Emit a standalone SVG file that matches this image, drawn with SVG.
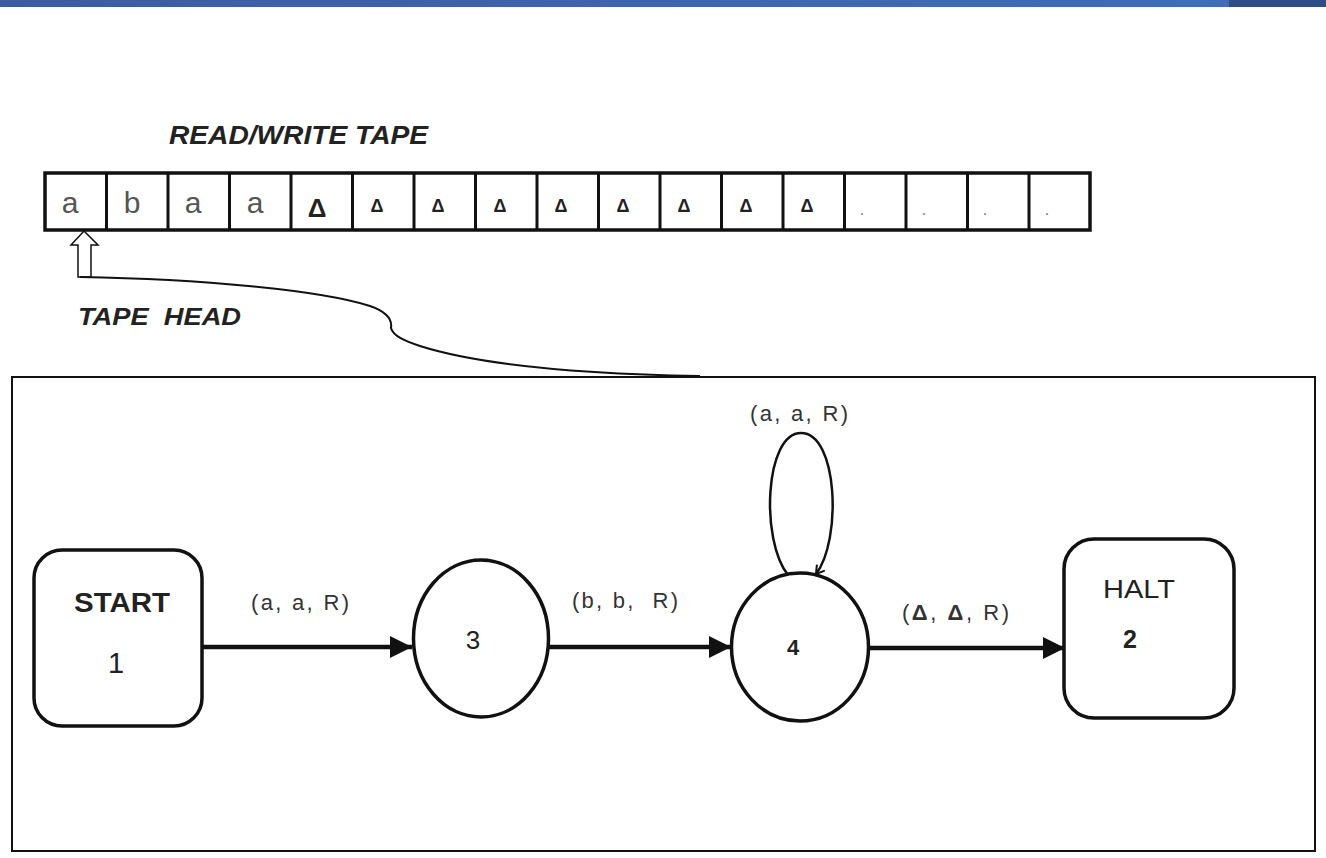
<svg xmlns="http://www.w3.org/2000/svg" width="1326" height="858" viewBox="0 0 1326 858">
<style>
.cell{fill:#fff;stroke:#111;stroke-width:3}
.sym{font-family:"Liberation Sans",Arial,sans-serif;fill:#555;font-size:30px;text-anchor:middle}
.tri{font-family:"Liberation Sans",Arial,sans-serif;fill:#222;font-size:18px;font-weight:bold;text-anchor:middle}
.dot{font-family:"Liberation Sans",Arial,sans-serif;fill:#777;font-size:16px;text-anchor:middle}
.title{font-family:"Liberation Sans",Arial,sans-serif;fill:#222;font-size:25px;font-weight:bold;font-style:italic}
.node{fill:#fff;stroke:#111;stroke-width:3.5}
.lbl{font-family:"Liberation Sans",Arial,sans-serif;fill:#333;font-size:22px;white-space:pre}
.ntxt{font-family:"Liberation Sans",Arial,sans-serif;fill:#222;text-anchor:middle}
.edge{stroke:#111;stroke-width:4.5;fill:none}
.thin{stroke:#111;stroke-width:2;fill:none}
</style>
<defs>
<linearGradient id="bar" x1="0" y1="0" x2="1" y2="0">
<stop offset="0" stop-color="#3a5ca4"/>
<stop offset="1" stop-color="#416cba"/>
</linearGradient>
<marker id="ah" markerWidth="6" markerHeight="5" refX="5" refY="2.5" orient="auto" markerUnits="strokeWidth">
<path d="M0,0 L5,2.5 L0,5 Z" fill="#111"/>
</marker>
<marker id="vh" markerWidth="12" markerHeight="12" refX="10" refY="6" orient="auto" markerUnits="userSpaceOnUse">
<path d="M2,1 L10,6 L2,11" fill="none" stroke="#111" stroke-width="2"/>
</marker>
</defs>
<rect x="0" y="0" width="1229" height="7" fill="url(#bar)"/>
<rect x="1229" y="0" width="97" height="7" fill="#2e4d87"/>

<g id="tape">
<text class="title" x="169" y="144" textLength="259" lengthAdjust="spacingAndGlyphs">READ/WRITE TAPE</text>
<rect x="45" y="173" width="1045" height="57" fill="#fff" stroke="#111" stroke-width="3.5"/>
<g class="thin" style="stroke-width:3">
<path d="M106.5,173V230M168,173V230M229.5,173V230M291,173V230M352.5,173V230M414,173V230M475.5,173V230M537,173V230M598.5,173V230M660,173V230M721.5,173V230M783,173V230M844.5,173V230M906,173V230M967.5,173V230M1029,173V230"/>
</g>
<text class="sym" x="70" y="213">a</text>
<text class="sym" x="132" y="213">b</text>
<text class="sym" x="193" y="213">a</text>
<text class="sym" x="255" y="213">a</text>
<text class="tri" x="317" y="217" style="font-size:26px">Δ</text>
<text class="tri" x="377" y="212">Δ</text>
<text class="tri" x="438" y="212">Δ</text>
<text class="tri" x="500" y="212">Δ</text>
<text class="tri" x="561" y="212">Δ</text>
<text class="tri" x="623" y="212">Δ</text>
<text class="tri" x="684" y="212">Δ</text>
<text class="tri" x="746" y="212">Δ</text>
<text class="tri" x="807" y="212">Δ</text>
<text class="dot" x="862" y="215">.</text>
<text class="dot" x="924" y="215">.</text>
<text class="dot" x="985" y="215">.</text>
<text class="dot" x="1047" y="215">.</text>
</g>

<g id="tape-head">
<polygon points="84,231 98,245 91,245 91,277 78,277 78,245 71,245" fill="#fff" stroke="#111" stroke-width="1.5"/>
<text class="title" x="78" y="325" textLength="163" lengthAdjust="spacingAndGlyphs" style="font-size:24px;white-space:pre">TAPE  HEAD</text>
</g>

<g id="control-unit">
<rect x="12" y="377" width="1303" height="474" fill="none" stroke="#111" stroke-width="2"/>
</g>

<g id="connectors">
<path class="thin" d="M80,277 C200,279 320,290 370,306 C390,313 392,322 391,328 C393,336 405,341 420,346 C480,365 580,374 700,376"/>
<line class="edge" x1="202" y1="647" x2="412" y2="647" marker-end="url(#ah)"/>
<line class="edge" x1="549" y1="647" x2="731" y2="647" marker-end="url(#ah)"/>
<line class="edge" x1="868" y1="648" x2="1065" y2="648" marker-end="url(#ah)"/>
<path class="thin" d="M788,575 C760,540 765,433 801,433 C838,433 842,540 816,574" marker-end="url(#vh)" style="stroke-width:2.5"/>
<text class="lbl" x="251" y="610" textLength="98" lengthAdjust="spacing">(a, a, R)</text>
<text class="lbl" x="572" y="608" textLength="106" lengthAdjust="spacing">(b, b,  R)</text>
<text class="lbl" x="750" y="421" textLength="98" lengthAdjust="spacing">(a, a, R)</text>
<text class="lbl" x="902" y="620" textLength="107" lengthAdjust="spacing">(<tspan font-weight="bold">Δ</tspan>, <tspan font-weight="bold">Δ</tspan>, R)</text>
</g>

<g id="start">
<rect class="node" x="34" y="550" width="168" height="176" rx="28"/>
<text class="ntxt" x="122" y="612" style="font-size:27px;font-weight:bold" textLength="96" lengthAdjust="spacingAndGlyphs">START</text>
<text class="ntxt" x="116" y="673" style="font-size:29px">1</text>
</g>

<g id="state3">
<ellipse class="node" cx="481" cy="638.5" rx="67.5" ry="78.5"/>
<text class="ntxt" x="473" y="649" style="font-size:26px">3</text>
</g>

<g id="state4">
<ellipse class="node" cx="800" cy="647" rx="68.5" ry="74"/>
<text class="ntxt" x="793" y="655" style="font-size:22px;font-weight:bold">4</text>
</g>

<g id="halt">
<rect class="node" x="1064" y="539" width="170" height="179" rx="30"/>
<text class="ntxt" x="1139" y="598" style="font-size:26px" textLength="72" lengthAdjust="spacingAndGlyphs">HALT</text>
<text class="ntxt" x="1130" y="648" style="font-size:25px;font-weight:bold">2</text>
</g>
</svg>
